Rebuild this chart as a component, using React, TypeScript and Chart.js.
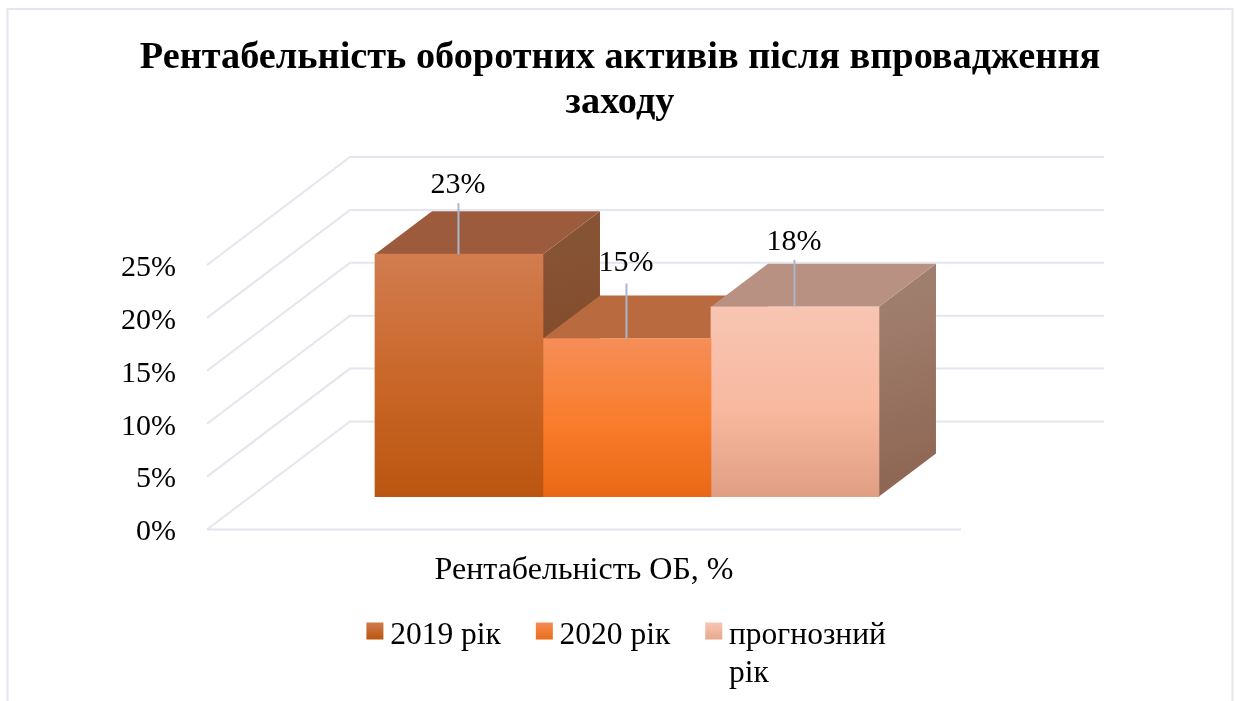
import React, { useEffect, useRef } from "react";
import { Chart, registerables } from "chart.js";

Chart.register(...registerables);

const categories = ["Рентабельність ОБ, %"];
const seriesNames = ["2019 рік", "2020 рік", "прогнозний рік"];
const legendLines = [["2019 рік"], ["2020 рік"], ["прогнозний", "рік"]];
const values2019 = [23];
const values2020 = [15];
const valuesForecast = [18];
const yTicksMax = 25;
const yTickStep = 5;

const frontStops = [
  ["#D27C50", "#C96526", "#BB5611"],
  ["#F58E58", "#F97C2A", "#E86815"],
  ["#F7C5B2", "#F8B89F", "#E09F83"],
];
const sideStops = [
  ["#875335", "#7C421D"],
  ["#A96130", "#9A5226"],
  ["#A07E6E", "#8C6350"],
];
const topColors = ["#9C5B3C", "#B96A3E", "#B99182"];
const legendStops = [
  ["#CF7A4E", "#BC5611"],
  ["#F58C55", "#EC6C18"],
  ["#F7C5B2", "#E6A98E"],
];

const labelRise = [69, 75, 65];
const leaderRise = [51, 55, 47];
const FONT = '"Liberation Serif", "Times New Roman", serif';
const GRID = "#E3E6EE";
const LEADER = "#A9B8CC";
const BAR_DX = 57;
const BAR_DY = 43;
const WALL_DX = 143;
const WALL_DY = 108;
const LEGEND_SHIFT = 30;

const scene3d = {
  id: "scene3d",
  afterLayout(chart: any) {
    const l = chart.legend;
    l.left += LEGEND_SHIFT;
    l.right += LEGEND_SHIFT;
    // Room for the wrapped second line of the last legend entry.
    l.bottom += 40;
    l.height += 40;
  },
  beforeDraw(chart: any) {
    const { ctx, width, height } = chart;
    ctx.save();
    ctx.fillStyle = "#fff";
    ctx.fillRect(0, 0, width, height);
    ctx.strokeStyle = GRID;
    ctx.lineWidth = 2;
    ctx.beginPath();
    ctx.moveTo(7.5, height);
    ctx.lineTo(7.5, 9);
    ctx.lineTo(1232.5, 9);
    ctx.lineTo(1232.5, height);
    ctx.stroke();
    ctx.restore();
  },
  beforeDatasetsDraw(chart: any) {
    const { ctx, chartArea } = chart;
    const y = chart.scales.y;
    ctx.save();
    ctx.strokeStyle = GRID;
    ctx.lineWidth = 2;
    ctx.beginPath();
    y.ticks.forEach((t: any) => {
      const p = y.getPixelForValue(t.value);
      ctx.moveTo(chartArea.left, p);
      ctx.lineTo(chartArea.left + WALL_DX, p - WALL_DY);
      ctx.lineTo(chartArea.right + WALL_DX, p - WALL_DY);
    });
    const zero = y.getPixelForValue(0);
    ctx.moveTo(chartArea.left, zero);
    ctx.lineTo(chartArea.right, zero);
    ctx.stroke();

    chart.data.datasets.forEach((_: any, i: number) => {
      const bar = chart.getDatasetMeta(i).data[0];
      const half = bar.width / 2;
      const l = bar.x - half;
      const r = bar.x + half;
      const top = bar.y;
      const base = bar.base;
      const g = ctx.createLinearGradient(r, top, r + BAR_DX, base);
      g.addColorStop(0, sideStops[i][0]);
      g.addColorStop(1, sideStops[i][1]);
      ctx.fillStyle = g;
      ctx.beginPath();
      ctx.moveTo(r, top);
      ctx.lineTo(r + BAR_DX, top - BAR_DY);
      ctx.lineTo(r + BAR_DX, base - BAR_DY);
      ctx.lineTo(r, base);
      ctx.closePath();
      ctx.fill();
      ctx.fillStyle = topColors[i];
      ctx.beginPath();
      ctx.moveTo(l, top);
      ctx.lineTo(l + BAR_DX, top - BAR_DY);
      ctx.lineTo(r + BAR_DX, top - BAR_DY);
      ctx.lineTo(r, top);
      ctx.closePath();
      ctx.fill();
    });
    ctx.restore();
  },
  afterDatasetsDraw(chart: any) {
    const { ctx } = chart;
    ctx.save();
    chart.data.datasets.forEach((ds: any, i: number) => {
      const bar = chart.getDatasetMeta(i).data[0];
      ctx.strokeStyle = LEADER;
      ctx.lineWidth = 2;
      ctx.beginPath();
      ctx.moveTo(bar.x - 0.5, bar.y - leaderRise[i]);
      ctx.lineTo(bar.x - 0.5, bar.y);
      ctx.stroke();
      ctx.fillStyle = "#000";
      ctx.font = `30px ${FONT}`;
      ctx.textAlign = "center";
      ctx.textBaseline = "middle";
      ctx.fillText(`${ds.data[0].y}%`, bar.x - 1, bar.y - labelRise[i]);
    });
    ctx.restore();
  },
  afterDraw(chart: any) {
    const { ctx, legend } = chart;
    ctx.save();
    legend.legendHitBoxes.forEach((hb: any, i: number) => {
      const top = hb.top + 3;
      const g = ctx.createLinearGradient(0, top, 0, top + 17);
      g.addColorStop(0, legendStops[i][0]);
      g.addColorStop(1, legendStops[i][1]);
      ctx.fillStyle = g;
      ctx.fillRect(hb.left, top, 17, 17);
    });
    ctx.restore();
  },
};

const frontGradient = (i: number) => (c: any) => {
  const scale = c.chart.scales.yb;
  if (!scale) return frontStops[i][1];
  const v = c.dataset.data[0].y;
  const g = c.chart.ctx.createLinearGradient(0, scale.getPixelForValue(v), 0, scale.getPixelForValue(0));
  g.addColorStop(0, frontStops[i][0]);
  g.addColorStop(0.55, frontStops[i][1]);
  g.addColorStop(1, frontStops[i][2]);
  return g;
};

export default function App() {
  const ref = useRef<HTMLCanvasElement>(null);
  useEffect(() => {
    const barPosition = 55.7;
    const toPoints = (arr: number[]) => arr.map((y) => ({ x: barPosition, y }));
    const series = [values2019, values2020, valuesForecast];
    const chart = new Chart(ref.current as HTMLCanvasElement, {
      type: "bar",
      data: {
        labels: categories,
        datasets: series.map((vals, i) => ({
          label: seriesNames[i],
          data: toPoints(vals) as any,
          xAxisID: "xb",
          yAxisID: "yb",
          backgroundColor: frontGradient(i) as any,
          borderWidth: 0,
          barThickness: 168,
          clip: false as any,
        })),
      },
      options: {
        responsive: false,
        animation: false,
        layout: { padding: { top: 0, left: 0, right: 0, bottom: 40 } },
        scales: {
          x: {
            type: "category",
            labels: categories,
            position: "bottom",
            grid: { display: false },
            border: { display: false },
            ticks: { color: "#000", font: { family: FONT, size: 32 }, padding: 14 },
            afterFit: (s: any) => { s.height = 55; },
          },
          y: {
            position: "left",
            min: 0,
            max: yTicksMax,
            grid: { display: false },
            border: { display: false },
            ticks: {
              stepSize: yTickStep,
              color: "#000",
              font: { family: FONT, size: 30 },
              padding: 23,
              labelOffset: 3,
              callback: (v: any) => `${v}%`,
            },
            afterFit: (s: any) => { s.width = 207; },
          },
          xb: { type: "linear", display: false, min: 0, max: 100, offset: false, position: "bottom" },
          yb: {
            type: "linear",
            position: "right",
            min: -3.125,
            max: 21.97,
            grid: { display: false },
            border: { display: false },
            ticks: { display: false },
            afterFit: (s: any) => { s.width = 279; },
          },
        } as any,
        plugins: {
          tooltip: { enabled: false },
          title: {
            display: true,
            text: ["Рентабельність оборотних активів після впровадження", "заходу"],
            color: "#000",
            font: { family: FONT, size: 38.3, weight: "bold", lineHeight: 45 / 38.3 },
            padding: { top: 36, bottom: 139 },
          },
          legend: {
            display: true,
            position: "bottom",
            labels: {
              color: "#000",
              font: { family: FONT, size: 31.5, lineHeight: 38 / 31.5 },
              boxWidth: 8,
              boxHeight: 17,
              padding: 35,
              generateLabels: () =>
                legendLines.map((text, i) => ({
                  text: text.length > 1 ? text : text[0],
                  fillStyle: "rgba(0,0,0,0)",
                  strokeStyle: "rgba(0,0,0,0)",
                  lineWidth: 0,
                  datasetIndex: i,
                  fontColor: "#000",
                })) as any,
            },
          },
        },
      },
      plugins: [scene3d as any],
    });
    return () => chart.destroy();
  }, []);
  return (
    <div style={{ position: "absolute", left: 0, top: 0, width: 1235, height: 701, overflow: "hidden" }}>
      <canvas ref={ref} width={1240} height={701} style={{ display: "block" }} />
    </div>
  );
}
